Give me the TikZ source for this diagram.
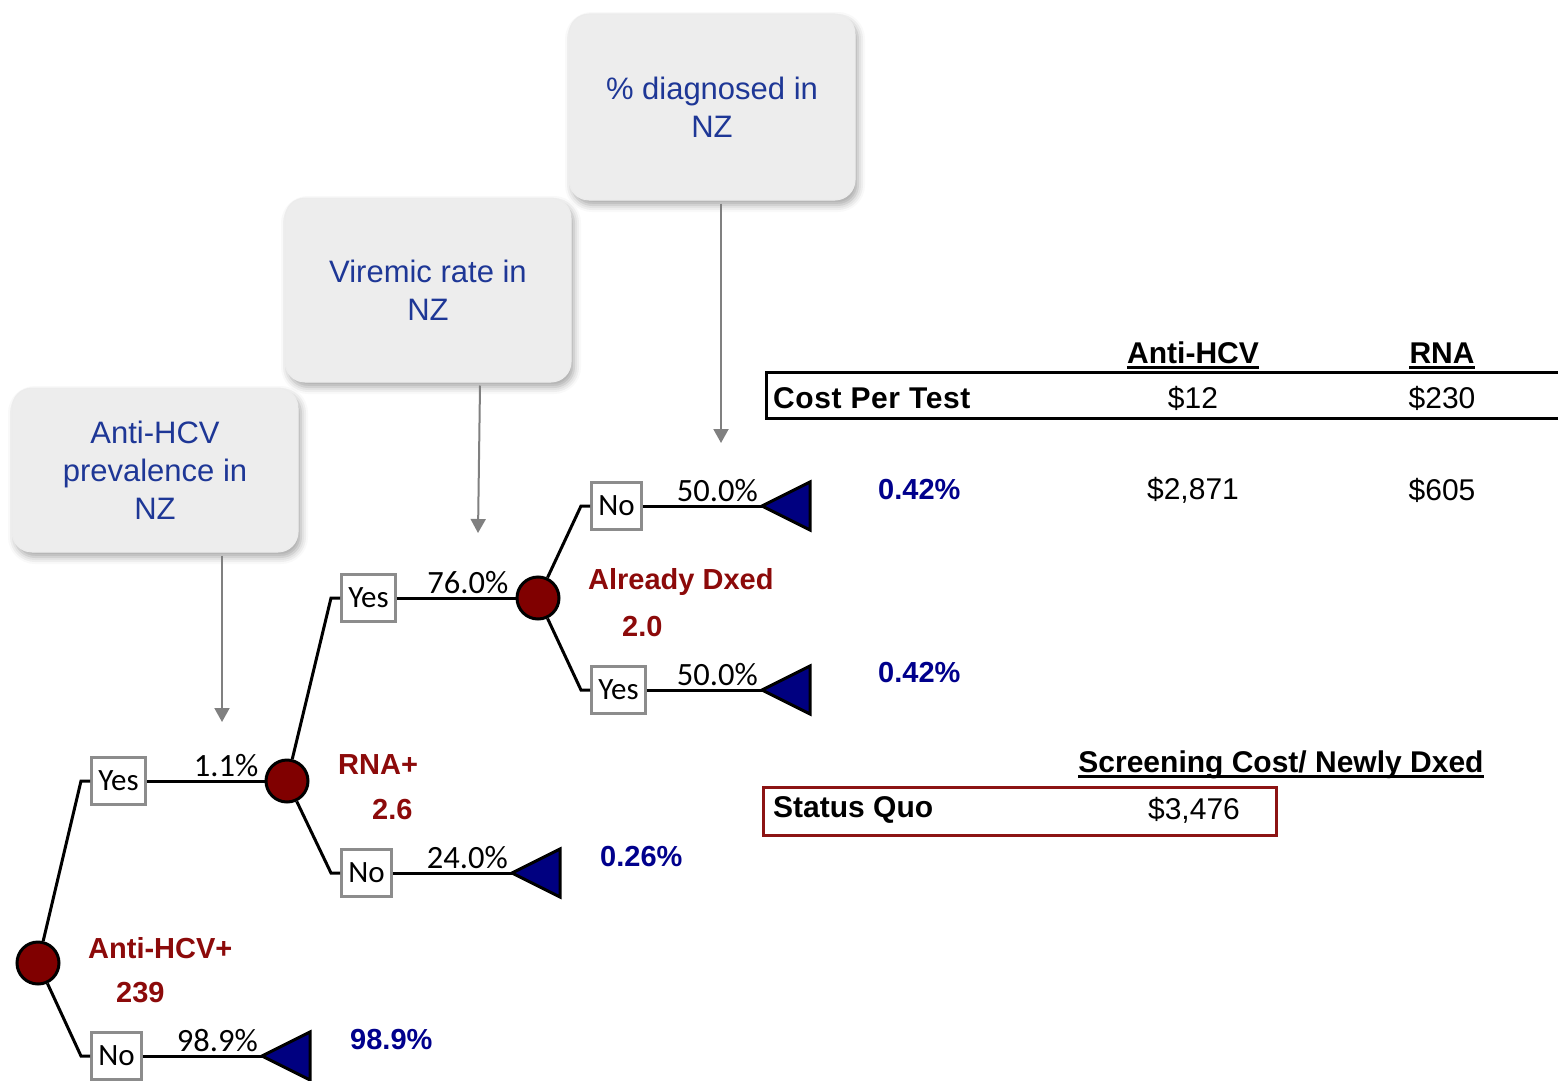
\documentclass[tikz,border=0pt]{standalone}
\usepackage{fontspec}
\setmainfont{Liberation Sans}
\newfontfamily\calfont{Carlito}
\usetikzlibrary{arrows.meta,shadows.blur}

\definecolor{chancered}{RGB}{128,0,0}
\definecolor{lblred}{RGB}{140,10,10}
\definecolor{termblue}{RGB}{0,0,128}
\definecolor{lblblue}{RGB}{0,0,140}
\definecolor{qblue}{RGB}{30,55,150}
\definecolor{qfill}{RGB}{237,237,237}
\definecolor{boxgray}{RGB}{140,140,140}
\definecolor{pointgray}{RGB}{128,128,128}
\definecolor{sqred}{RGB}{140,20,20}

\tikzset{
  chancenode/.style={circle, draw, line width=3pt, fill=chancered, minimum size=42pt, inner sep=0pt},
  choicebox/.style={draw=boxgray, line width=2.5pt, fill=white, minimum height=47pt, inner xsep=7pt, inner ysep=0pt, font=\calfont\fontsize{31}{31}\selectfont},
  branch/.style={line width=3pt},
  termtri/.style={draw, line width=3pt, fill=termblue, line join=miter},
  pct/.style={font=\calfont\fontsize{32.5}{32.5}\selectfont, inner sep=0pt, anchor=base east},
  redlbl/.style={text=lblred, font=\bfseries\fontsize{29}{29}\selectfont, inner sep=0pt, anchor=west},
  bluelbl/.style={text=lblblue, font=\bfseries\fontsize{29}{29}\selectfont, inner sep=0pt, anchor=west},
  qbox/.style={rounded corners=20pt, fill=qfill, draw=white!85!gray, line width=1pt, text=qblue, align=center,
    font=\fontsize{31}{38}\selectfont, minimum width=286pt, minimum height=164pt,
    blur shadow={shadow xshift=3pt, shadow yshift=-5pt, shadow blur radius=7pt, shadow opacity=35}},
  pointarrow/.style={draw=pointgray, line width=2pt, -{Triangle[width=15pt,length=14pt]}},
  tbltxt/.style={font=\fontsize{30}{30}\selectfont, inner sep=0pt},
  tblhead/.style={font=\bfseries\fontsize{30}{30}\selectfont, inner sep=0pt},
  uline/.style={line width=2.5pt},
}

\begin{document}
\begin{tikzpicture}[x=1pt,y=-1pt]
  \useasboundingbox (0,0) rectangle (1558,1081);

  % question boxes
  \node[qbox] (q1) at (155,470) {Anti-HCV\\prevalence in\\NZ};
  \node[qbox, minimum height=184pt] (q2) at (428,290) {Viremic rate in\\NZ};
  \node[qbox, minimum height=186pt] (q3) at (712,107) {\% diagnosed in\\NZ};
  \coordinate (a1) at (222,722);
  \coordinate (a2) at (478,533);
  \coordinate (a3) at (721,443);
  \draw[pointarrow] ([xshift=67pt,yshift=-3pt]q1.south) -- (a1);
  \draw[pointarrow] ([xshift=52pt,yshift=-3pt]q2.south) -- (a2);
  \draw[pointarrow] ([xshift=9pt,yshift=-3pt]q3.south) -- (a3);

  % decision tree
  \node[chancenode] (c1) at (38,963) {};
  \node[chancenode] (c2) at (287,781) {};
  \node[chancenode] (c3) at (538,598) {};
  \node[choicebox, anchor=west] (yes1) at (90,781) {Yes};
  \node[choicebox, anchor=west] (no1) at (90,1056) {No};
  \node[choicebox, anchor=west] (yes2) at (340,598) {Yes};
  \node[choicebox, anchor=west] (no2) at (340,873) {No};
  \node[choicebox, anchor=west] (no3) at (590,506) {No};
  \node[choicebox, anchor=west] (yes3) at (590,690) {Yes};
  \coordinate (t1) at (262,1056);
  \coordinate (t2) at (512,873);
  \coordinate (t3) at (762,506);
  \coordinate (t4) at (762,690);

  \draw[branch] (c1) -- ([xshift=-9pt]yes1.west) -- (yes1.west);
  \draw[branch] (c1) -- ([xshift=-9pt]no1.west) -- (no1.west);
  \draw[branch] (yes1) -- (c2);
  \draw[branch] (no1) -- (t1);
  \draw[branch] (c2) -- ([xshift=-9pt]yes2.west) -- (yes2.west);
  \draw[branch] (c2) -- ([xshift=-9pt]no2.west) -- (no2.west);
  \draw[branch] (yes2) -- (c3);
  \draw[branch] (no2) -- (t2);
  \draw[branch] (c3) -- ([xshift=-9pt]no3.west) -- (no3.west);
  \draw[branch] (c3) -- ([xshift=-9pt]yes3.west) -- (yes3.west);
  \draw[branch] (no3) -- (t3);
  \draw[branch] (yes3) -- (t4);
  \foreach \t in {t1,t2,t3,t4}
    \draw[termtri] (\t) -- ++(48,-24) -- ++(0,48) -- cycle;

  \node[pct] (p1) at ([xshift=-6pt,yshift=5pt]c2.west) {1.1\%};
  \node[pct] (p2) at ([xshift=-4pt,yshift=5pt]t1) {98.9\%};
  \node[pct] (p3) at ([xshift=-7pt,yshift=5pt]c3.west) {76.0\%};
  \node[pct] (p4) at ([xshift=-4pt,yshift=5pt]t2) {24.0\%};
  \node[pct] (p5) at ([xshift=-4pt,yshift=5pt]t3) {50.0\%};
  \node[pct] (p6) at ([xshift=-4pt,yshift=5pt]t4) {50.0\%};

  \node[redlbl] (l1) at (88,948) {Anti-HCV+};
  \node[redlbl] (l1v) at (116,993) {239};
  \node[redlbl] (l2) at (338,765) {RNA+};
  \node[redlbl] (l2v) at (372,810) {2.6};
  \node[redlbl] (l3) at (588,582) {Already Dxed};
  \node[redlbl] (l3v) at (622,627) {2.0};

  \node[bluelbl] (v1) at (350,1040) {98.9\%};
  \node[bluelbl] (v2) at (600,857) {0.26\%};
  \node[bluelbl] (v3) at (878,490) {0.42\%};
  \node[bluelbl] (v4) at (878,673) {0.42\%};

  % cost table
  \node[tblhead] (hanti) at (1193,353) {Anti-HCV};
  \node[tblhead] (hrna) at (1442,353) {RNA};
  \draw[uline] ([yshift=-4pt]hanti.base west) -- ([yshift=-4pt]hanti.base east);
  \draw[uline] ([yshift=-4pt]hrna.base west) -- ([yshift=-4pt]hrna.base east);
  \draw[line width=3pt] (1558,372) -- (766,372) -- (766,418) -- (1558,418);
  \node[tblhead, anchor=west] (cpt) at (773,398) {\addfontfeature{LetterSpace=2}Cost Per Test};
  \node[tbltxt] (cpa) at (1193,398) {\$12};
  \node[tbltxt] (cpr) at (1442,398) {\$230};
  \node[tbltxt] (tota) at (1193,490) {\$2,871};
  \node[tbltxt] (totr) at (1442,490) {\$605};

  \node[tblhead] (hscr) at (1281,765) {Screening Cost/ Newly Dxed};
  \draw[uline] ([yshift=-4pt]hscr.base west) -- ([yshift=-4pt]hscr.base east);
  \draw[line width=3pt, draw=sqred] (763,787) rectangle (1276,835);
  \node[tblhead, anchor=west] (sq) at (773,810) {Status Quo};
  \node[tbltxt] (sqv) at (1194,810) {\$3,476};
\end{tikzpicture}
\end{document}
